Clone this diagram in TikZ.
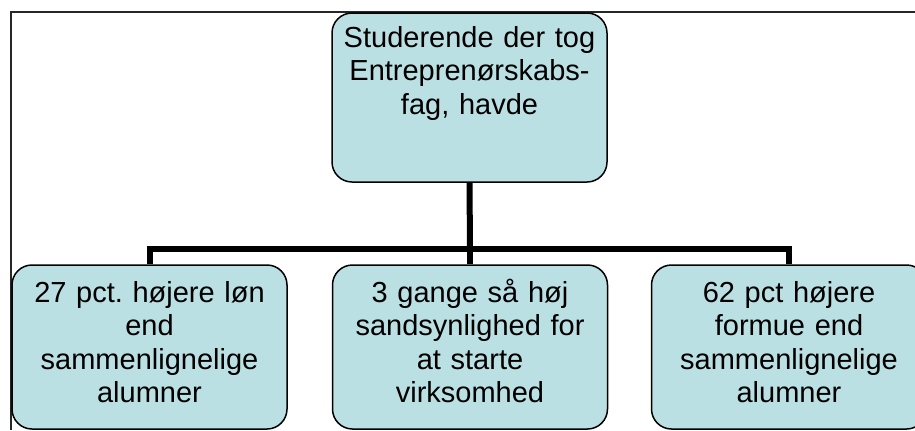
\documentclass[tikz,border=0pt]{standalone}
\usepackage{fontspec}
\setmainfont{Liberation Sans}
\frenchspacing
\definecolor{boxfill}{RGB}{187,224,227}
\begin{document}
\begin{tikzpicture}[x=0.5pt,y=-0.5pt,
    fagbox/.style={draw=black,line width=0.75pt,fill=boxfill,rounded corners=10pt,
      minimum width=137.5pt,text width=130pt,align=center,inner xsep=0pt,inner ysep=0pt,
      font=\fontsize{14.5pt}{16.75pt}\selectfont,text height=18.5pt,text depth=63.5pt},
    conn/.style={line width=3pt}]
        \useasboundingbox (0,0) rectangle (915,430);
        \clip (0,0) rectangle (915,430);
        % frame
        \draw[line width=1pt,black!85] (11,430) -- (11,12) -- (915,12);

        \node[fagbox,text height=17pt,text depth=67.5pt] (top) at (469.5,97.5)
            {Studerende der tog\\ Entreprenørskabs-\\ fag, havde};
        \node[fagbox] (loen) at (149.5,347)
            {27 pct. højere løn\\ end\\ sammenlignelige\\ alumner};
        \node[fagbox] (start) at (470,347)
            {3 gange så høj\\ sandsynlighed for\\ at starte\\ virksomhed};
        \node[fagbox] (formue) at (789,347)
            {62 pct højere\\ formue end\\ sammenlignelige\\ alumner};

        % tree lines
        \coordinate (split) at (470,249);
        \draw[conn] (top.south) -- (split);
        \draw[conn] (loen.north) |- (split) -| (formue.north);
        \draw[conn] (split) -- (start.north);
    \end{tikzpicture}
\end{document}
